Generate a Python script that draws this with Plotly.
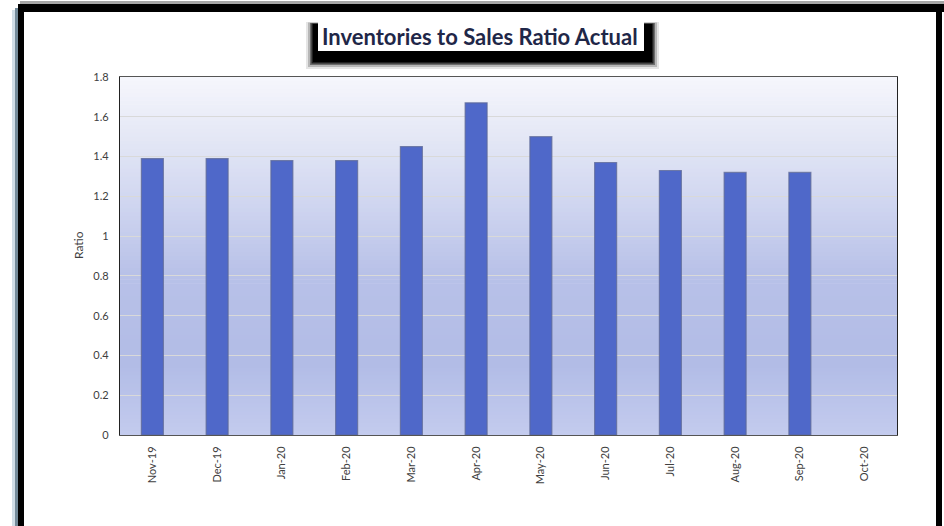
import plotly.graph_objects as go

# Monthly inventories-to-sales ratio
months = ["Nov-19", "Dec-19", "Jan-20", "Feb-20", "Mar-20", "Apr-20",
          "May-20", "Jun-20", "Jul-20", "Aug-20", "Sep-20", "Oct-20"]
ratio = [1.39, 1.39, 1.38, 1.38, 1.45, 1.67, 1.50, 1.37, 1.33, 1.32, 1.32, None]
y_ticks = [0, 0.2, 0.4, 0.6, 0.8, 1, 1.2, 1.4, 1.6, 1.8]

W, H = 944, 526
L, R, T, B = 120, 897, 77, 435  # plot-area edges in pixels


def px(x):
    return (x - L) / (R - L)


def py(y):
    return (B - y) / (B - T)


def lerp(c1, c2, t):
    return tuple(round(a + (b - a) * t) for a, b in zip(c1, c2))


shapes = []

# vertical gradient behind the bars
stops = [(0.0, (195, 203, 238)), (0.2, (178, 188, 230)), (0.45, (184, 193, 232)),
         (0.65, (208, 214, 240)), (0.85, (230, 233, 246)), (1.0, (246, 247, 252))]
N = 90
for i in range(N):
    t = (i + 0.5) / N
    for (a, ca), (b, cb) in zip(stops[:-1], stops[1:]):
        if a <= t <= b:
            c = lerp(ca, cb, (t - a) / (b - a))
            break
    shapes.append(dict(type="rect", xref="paper", yref="paper", layer="below",
                       x0=0, x1=1, y0=i / N, y1=(i + 1) / N + 0.002,
                       fillcolor="rgb(%d,%d,%d)" % c, line=dict(width=0)))

# outer frame
shapes += [
    dict(type="rect", xref="paper", yref="paper", layer="above",
         x0=px(12), x1=px(15), y0=py(526), y1=py(10),
         fillcolor="rgba(150,180,200,0.45)", line=dict(width=0)),
    dict(type="rect", xref="paper", yref="paper", layer="above",
         x0=px(15), x1=px(18), y0=py(526), y1=py(8),
         fillcolor="rgba(70,100,120,0.75)", line=dict(width=0)),
    dict(type="rect", xref="paper", yref="paper", layer="above",
         x0=px(18), x1=px(24), y0=py(526), y1=py(4),
         fillcolor="black", line=dict(width=0)),
    dict(type="rect", xref="paper", yref="paper", layer="above",
         x0=px(18), x1=px(944), y0=py(12), y1=py(4),
         fillcolor="black", line=dict(width=0)),
    dict(type="rect", xref="paper", yref="paper", layer="above",
         x0=px(20), x1=px(944), y0=py(4), y1=py(1),
         fillcolor="rgba(0,0,0,0.35)", line=dict(width=0)),
    dict(type="rect", xref="paper", yref="paper", layer="above",
         x0=px(936), x1=px(942), y0=py(526), y1=py(4),
         fillcolor="black", line=dict(width=0)),
]

# title box with a soft dark shadow falling below it
for k, op in [(7, 0.1), (5, 0.2), (3, 0.4), (1.5, 0.7), (0, 1.0)]:
    shapes.append(dict(type="rect", xref="paper", yref="paper", layer="above",
                       x0=px(313 - k), x1=px(652 + k), y0=py(62 + k), y1=py(24 - k * 0.3),
                       fillcolor="rgba(0,0,0,%g)" % op, line=dict(width=0)))
shapes.append(dict(type="rect", xref="paper", yref="paper", layer="above",
                   x0=px(318), x1=px(644), y0=py(51), y1=py(19),
                   fillcolor="white", line=dict(width=0)))

fig = go.Figure(go.Bar(
    x=months, y=ratio,
    marker=dict(color="#4f68c9", line=dict(color="rgba(95,105,150,0.75)", width=1.2)),
    width=0.34,
))

fig.update_layout(
    width=W, height=H,
    margin=dict(l=L, r=W - R, t=T, b=H - B, pad=0),
    paper_bgcolor="white", plot_bgcolor="rgba(0,0,0,0)",
    font=dict(family="Lato, 'Open Sans', sans-serif", size=11, color="#404040"),
    showlegend=False,
    shapes=shapes,
    annotations=[
        dict(text="<b>Inventories to Sales Ratio Actual</b>", xref="paper", yref="paper",
             x=px(480), y=py(36), xanchor="center", yanchor="middle", showarrow=False,
             font=dict(family="Lato, sans-serif", size=22, color="#1f2748")),
        dict(text="Ratio", xref="paper", yref="paper", x=px(79), y=py(245),
             textangle=-90, xanchor="center", yanchor="middle", showarrow=False,
             font=dict(size=12, color="#404040")),
    ],
)

fig.update_xaxes(
    type="category", tickangle=-90, showgrid=False,
    showline=True, linecolor="#555555", linewidth=1, mirror=True,
    ticks="", ticklabelstandoff=6,
    tickfont=dict(size=11, color="#404040"),
)
fig.update_yaxes(
    range=[0, 1.8], tickvals=y_ticks, ticktext=[str(v) for v in y_ticks],
    showgrid=True, gridcolor="#d9d9d9", gridwidth=1, zeroline=False,
    showline=True, linecolor="#222222", linewidth=1.2, mirror=True,
    ticks="", ticklabelstandoff=8,
    tickfont=dict(size=11, color="#404040"),
)

fig.write_html("out.html")
